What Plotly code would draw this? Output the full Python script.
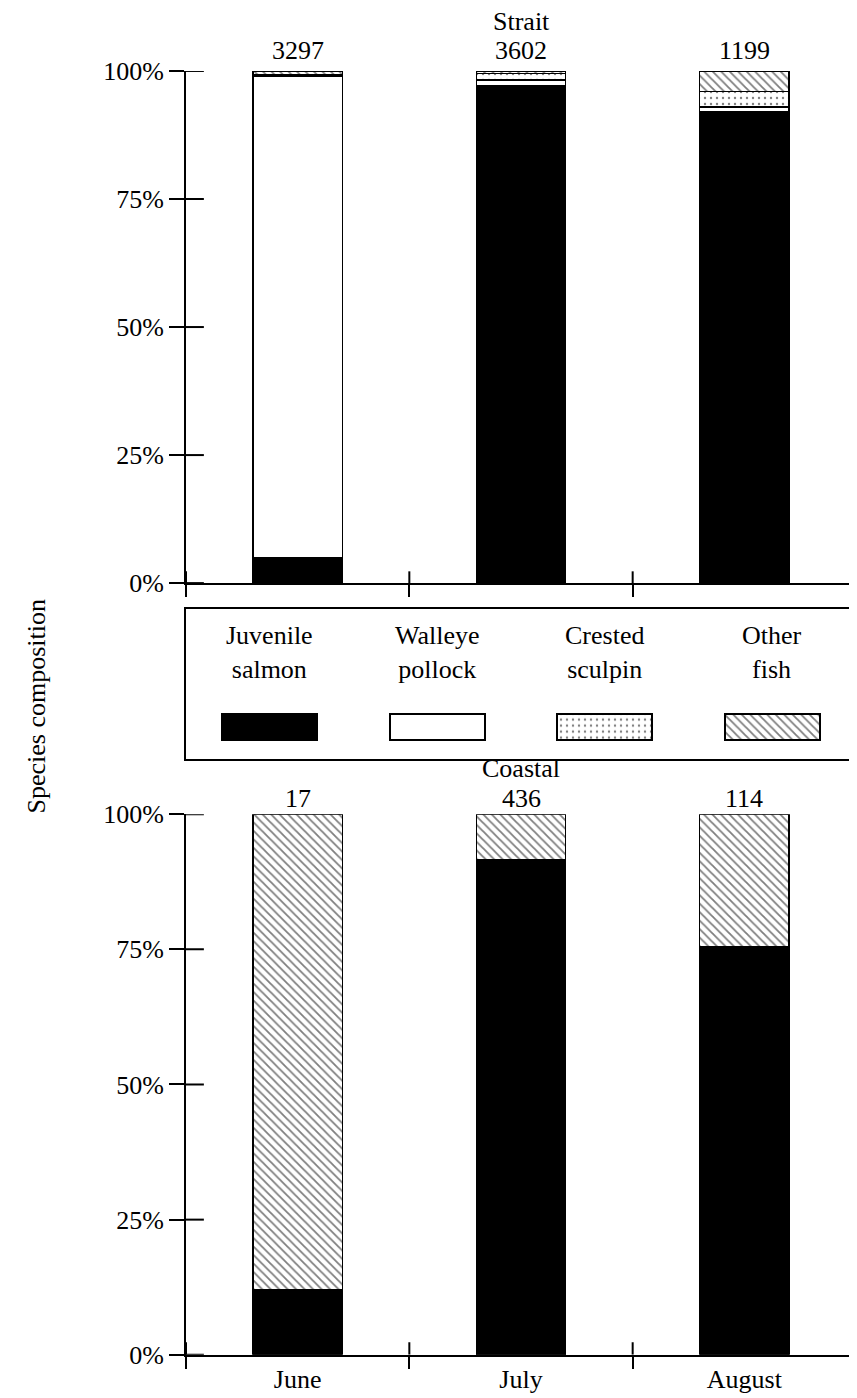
import plotly.graph_objects as go

months = ["June", "July", "August"]
species = ["Juvenile salmon", "Walleye pollock", "Crested sculpin", "Other fish"]
species_labels = ["Juvenile<br>salmon", "Walleye<br>pollock", "Crested<br>sculpin", "Other<br>fish"]

# Percent composition, Strait
strait_juvenile = [5.0, 97.2, 92.0]
strait_pollock = [94.0, 1.0, 1.0]
strait_sculpin = [0.3, 1.3, 3.0]
strait_other = [0.7, 0.5, 4.0]
strait_n = [3297, 3602, 1199]

# Percent composition, Coastal
coastal_juvenile = [12.0, 91.5, 75.5]
coastal_pollock = [0.0, 0.0, 0.0]
coastal_sculpin = [0.0, 0.0, 0.0]
coastal_other = [88.0, 8.5, 24.5]
coastal_n = [17, 436, 114]

y_ticks = [0, 25, 50, 75, 100]
y_tick_labels = ["0%", "25%", "50%", "75%", "100%"]

FONT = "Liberation Serif"
FS = 26
W, H = 857, 1398

styles = [
    dict(color="black", pattern=dict(shape="")),
    dict(color="white", pattern=dict(shape="")),
    dict(color="white", pattern=dict(shape=".", fgcolor="black", bgcolor="white", size=6, solidity=0.12)),
    dict(color="white", pattern=dict(shape="\\", fgcolor="black", bgcolor="white", size=6, solidity=0.3)),
]

def px_x(p):
    return p / W

def px_y(p):
    return 1 - p / H

xdom = [px_x(178), px_x(848)]
top_dom = [px_y(573), px_y(50)]
bot_dom = [px_y(1361), px_y(809)]
leg_dom = [px_y(753), px_y(599)]

fig = go.Figure()

panels = [
    ("x", "y", [strait_juvenile, strait_pollock, strait_sculpin, strait_other], strait_n, 4),
    ("x2", "y2", [coastal_juvenile, coastal_pollock, coastal_sculpin, coastal_other], coastal_n, -1),
]

for xa, ya, series, counts, shift in panels:
    for name, vals, st in zip(species, series, styles):
        fig.add_trace(go.Bar(
            x=months, y=vals, name=name, xaxis=xa, yaxis=ya, width=0.4,
            marker=dict(color=st["color"], pattern=st["pattern"], line=dict(color="black", width=1.6)),
            showlegend=False,
        ))
    for m, n in zip(months, counts):
        fig.add_annotation(x=m, y=100, xref=xa, yref=ya, text=str(n), showarrow=False,
                           yanchor="bottom", yshift=shift, font=dict(family=FONT, size=FS, color="black"))

# Legend panel as its own axis
for name, st in zip(species, styles):
    fig.add_trace(go.Bar(
        x=[name], y=[0.17], base=[0.13], xaxis="x3", yaxis="y3", width=0.57,
        marker=dict(color=st["color"], pattern=st["pattern"], line=dict(color="black", width=2)),
        showlegend=False,
    ))
for name, lab in zip(species, species_labels):
    fig.add_annotation(x=name, y=0.71, xref="x3", yref="y3", text=lab, showarrow=False,
                       font=dict(family=FONT, size=FS, color="black"))

axis_common = dict(showline=True, linewidth=2, linecolor="black", showgrid=False, zeroline=False,
                   tickfont=dict(family=FONT, size=FS, color="black"))

xcommon = dict(axis_common, type="category", categoryarray=months, range=[-0.5, 2.5],
               tickson="boundaries", ticks="outside", ticklen=12, tickwidth=2, tickcolor="black",
               domain=xdom)
ycommon = dict(axis_common, range=[0, 100], tickvals=y_ticks, ticktext=y_tick_labels, ticks="outside",
               ticklen=15, tickwidth=2, tickcolor="black")

fig.update_layout(
    width=W, height=H, barmode="stack", bargap=0.6,
    plot_bgcolor="white", paper_bgcolor="white",
    margin=dict(l=0, r=0, t=0, b=0),
    font=dict(family=FONT, size=FS, color="black"),
    xaxis=dict(xcommon, anchor="y", showticklabels=False),
    yaxis=dict(ycommon, anchor="x", domain=top_dom),
    xaxis2=dict(xcommon, anchor="y2", showticklabels=True),
    yaxis2=dict(ycommon, anchor="x2", domain=bot_dom),
    xaxis3=dict(showline=True, mirror=True, linewidth=2, linecolor="black", showgrid=False,
                zeroline=False, showticklabels=False, ticks="", type="category",
                categoryarray=species, range=[-0.5, 3.5], domain=xdom, anchor="y3"),
    yaxis3=dict(showline=True, mirror=True, linewidth=2, linecolor="black", showgrid=False,
                zeroline=False, showticklabels=False, ticks="", range=[0, 1], domain=leg_dom,
                anchor="x3"),
)

# Inner halves of the crossing tick marks
shapes = []
bounds = [i - 0.5 for i in range(len(months) + 1)]
for xa, ya in [("x", "y"), ("x2", "y2")]:
    for t in y_ticks:
        shapes.append(dict(type="line", xref=xa, yref=ya, x0=-0.5, x1=-0.5 + 0.08, y0=t, y1=t,
                           line=dict(color="black", width=2)))
    for b in bounds:
        shapes.append(dict(type="line", xref=xa, yref=ya, x0=b, x1=b, y0=0, y1=2.3,
                           line=dict(color="black", width=2)))
fig.update_layout(shapes=shapes)

# Panel titles and y title
fig.add_annotation(x=(xdom[0] + xdom[1]) / 2, y=top_dom[1], xref="paper", yref="paper",
                   text="Strait", showarrow=False, yanchor="bottom", yshift=33,
                   font=dict(family=FONT, size=FS, color="black"))
fig.add_annotation(x=(xdom[0] + xdom[1]) / 2, y=bot_dom[1], xref="paper", yref="paper",
                   text="Coastal", showarrow=False, yanchor="bottom", yshift=29,
                   font=dict(family=FONT, size=FS, color="black"))
fig.add_annotation(x=px_x(28), y=0.5, xref="paper", yref="paper", text="Species composition",
                   textangle=-90, showarrow=False, xanchor="center", yanchor="middle",
                   font=dict(family=FONT, size=FS, color="black"))

fig.write_html("out.html")
